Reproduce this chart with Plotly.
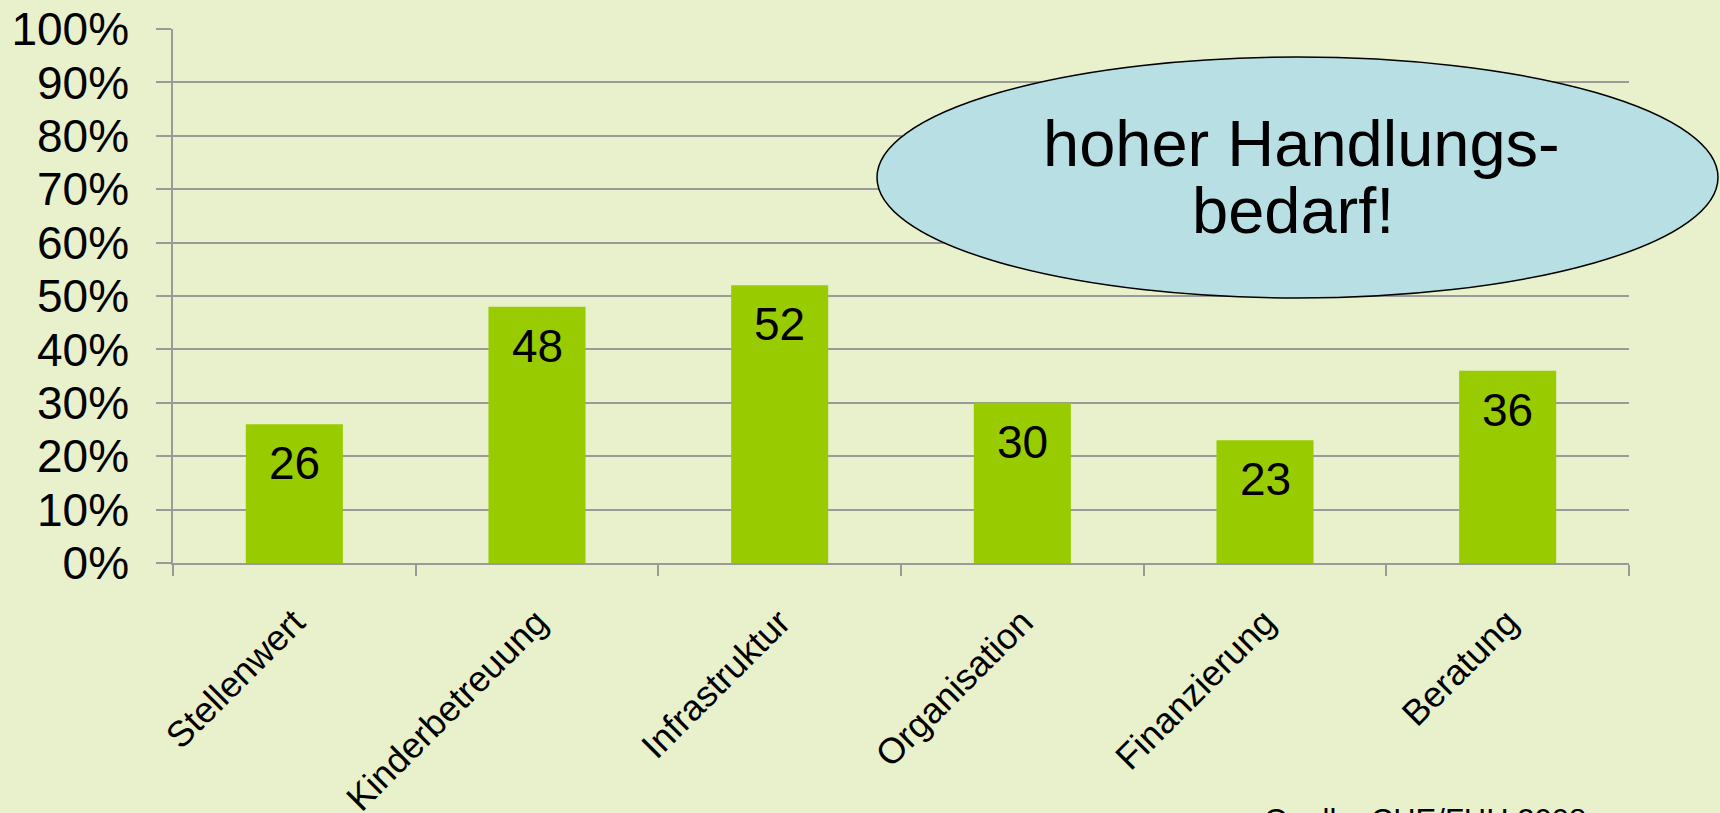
import plotly.graph_objects as go

categories = ["Stellenwert", "Kinderbetreuung", "Infrastruktur", "Organisation", "Finanzierung", "Beratung"]
values = [26, 48, 52, 30, 23, 36]
y_ticks = [0, 0.1, 0.2, 0.3, 0.4, 0.5, 0.6, 0.7, 0.8, 0.9, 1.0]
callout_lines = ["hoher Handlungs-", "bedarf!"]
source_text = "Quelle: CHE/FHH 2008"

FONT = "Liberation Sans, Arial, sans-serif"
BG = "#E8F0CC"
GRID = "#9A9A9A"

W, H = 1720, 813
L, R, T, B = 173, 91, 29, 250
PW, PH = W - L - R, H - T - B


def px(x):
    return (x - L) / PW


def py(y):
    return (H - B - y) / PH


shares = [v / 100 for v in values]

fig = go.Figure()
fig.add_trace(go.Bar(
    x=categories, y=shares, marker=dict(color="#99CC00", line=dict(width=0)),
    width=0.4, hoverinfo="skip",
))

for c, s, v in zip(categories, shares, values):
    fig.add_annotation(x=c, y=s, text=str(v), showarrow=False, xref="x", yref="y",
                       yanchor="top", yshift=-11,
                       font=dict(family=FONT, size=46, color="black"))

fig.update_layout(
    width=W, height=H,
    margin=dict(l=L, r=R, t=T, b=B, autoexpand=False),
    paper_bgcolor=BG, plot_bgcolor=BG,
    showlegend=False,
    font=dict(family=FONT, color="black"),
    bargap=0.6,
)
fig.update_yaxes(
    range=[0, 1], tickvals=y_ticks, tickformat=".0%", automargin=False,
    showgrid=True, gridcolor=GRID, gridwidth=1.5,
    ticks="outside", ticklen=15, tickcolor=GRID, tickwidth=1.5,
    showline=True, linecolor=GRID, linewidth=1.5, ticklabelstandoff=18,
    zeroline=False, tickfont=dict(family=FONT, size=46, color="black"),
)
fig.update_xaxes(
    tickangle=-45, tickson="boundaries", ticks="outside", ticklen=11, automargin=False,
    tickcolor=GRID, tickwidth=1.5, showline=True, linecolor=GRID, linewidth=1.5,
    showgrid=False, ticklabelstandoff=22,
    tickfont=dict(family=FONT, size=36, color="black"),
)

# callout ellipse in paper coords
fig.add_shape(type="circle", xref="paper", yref="paper",
              x0=px(877), x1=px(1718), y0=py(298), y1=py(57),
              fillcolor="#B8DFE3", line=dict(color="black", width=1.5), layer="above")
for txt, cx, cy in zip(callout_lines, [1301, 1293], [143, 210]):
    fig.add_annotation(xref="paper", yref="paper", x=px(cx), y=py(cy),
                       xanchor="center", yanchor="middle",
                       text=txt, showarrow=False,
                       font=dict(family=FONT, size=65, color="black"))
fig.add_annotation(xref="paper", yref="paper", x=px(1262), y=py(801),
                   xanchor="left", yanchor="top", text=source_text, showarrow=False,
                   font=dict(family=FONT, size=31, color="black"))

fig.write_html("out.html", config={"displayModeBar": False},
               post_script="document.body.style.margin='0';document.body.style.overflow='hidden';")
